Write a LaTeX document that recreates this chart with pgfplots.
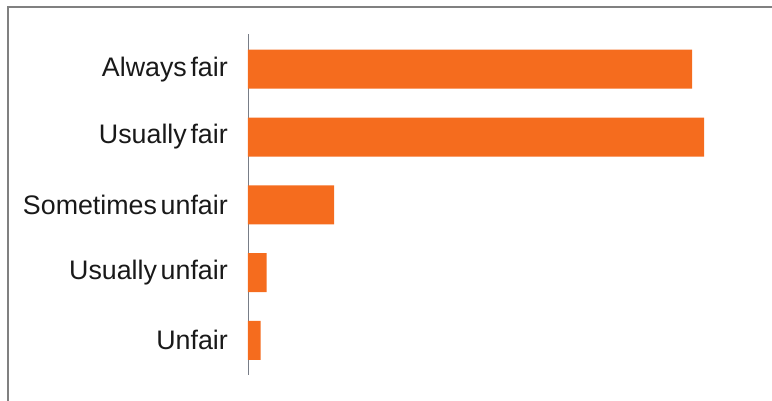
\documentclass[border=0pt]{standalone}
\usepackage{pgfplots}
\pgfplotsset{compat=1.18}
\usepackage{fontspec}
\setmainfont[WordSpace=0.5]{Liberation Sans}
\definecolor{barorange}{RGB}{245,108,30}
\definecolor{framegray}{RGB}{128,128,128}
\definecolor{axisgray}{RGB}{120,125,135}
\begin{document}
\begin{tikzpicture}
\useasboundingbox (-248pt,-26pt) rectangle (524pt,375pt);
\begin{scope}
\clip (-248pt,-26pt) rectangle (524pt,375pt);
\draw[framegray, line width=2pt] (-240pt,-60pt) -- (-240pt,368pt) -- (560pt,368pt);
\end{scope}
\begin{axis}[
  at={(0pt,0pt)}, anchor=south west,
  scale only axis,
  width=508.5pt, height=341pt,
  xmin=0, xmax=50,
  ymin=-0.51, ymax=4.52,
  xbar, bar width=39pt,
  axis x line=none,
  axis y line*=left,
  y axis line style={axisgray, line width=0.8pt, -},
  ytick={0,1,2,3,4},
  yticklabels={Unfair,Usually unfair,Sometimes unfair,Usually fair,Always fair},
  major tick length=0pt,
  yticklabel style={font=\fontsize{26.8}{32}\selectfont, text=black!90, anchor=east, inner sep=0pt, xshift=-20pt},
  clip=false,
]
\addplot[fill=barorange, draw=none] coordinates {
  (1.25,0) (1.84,1) (8.46,2) (44.84,3) (43.66,4)
};
\end{axis}
\end{tikzpicture}
\end{document}
